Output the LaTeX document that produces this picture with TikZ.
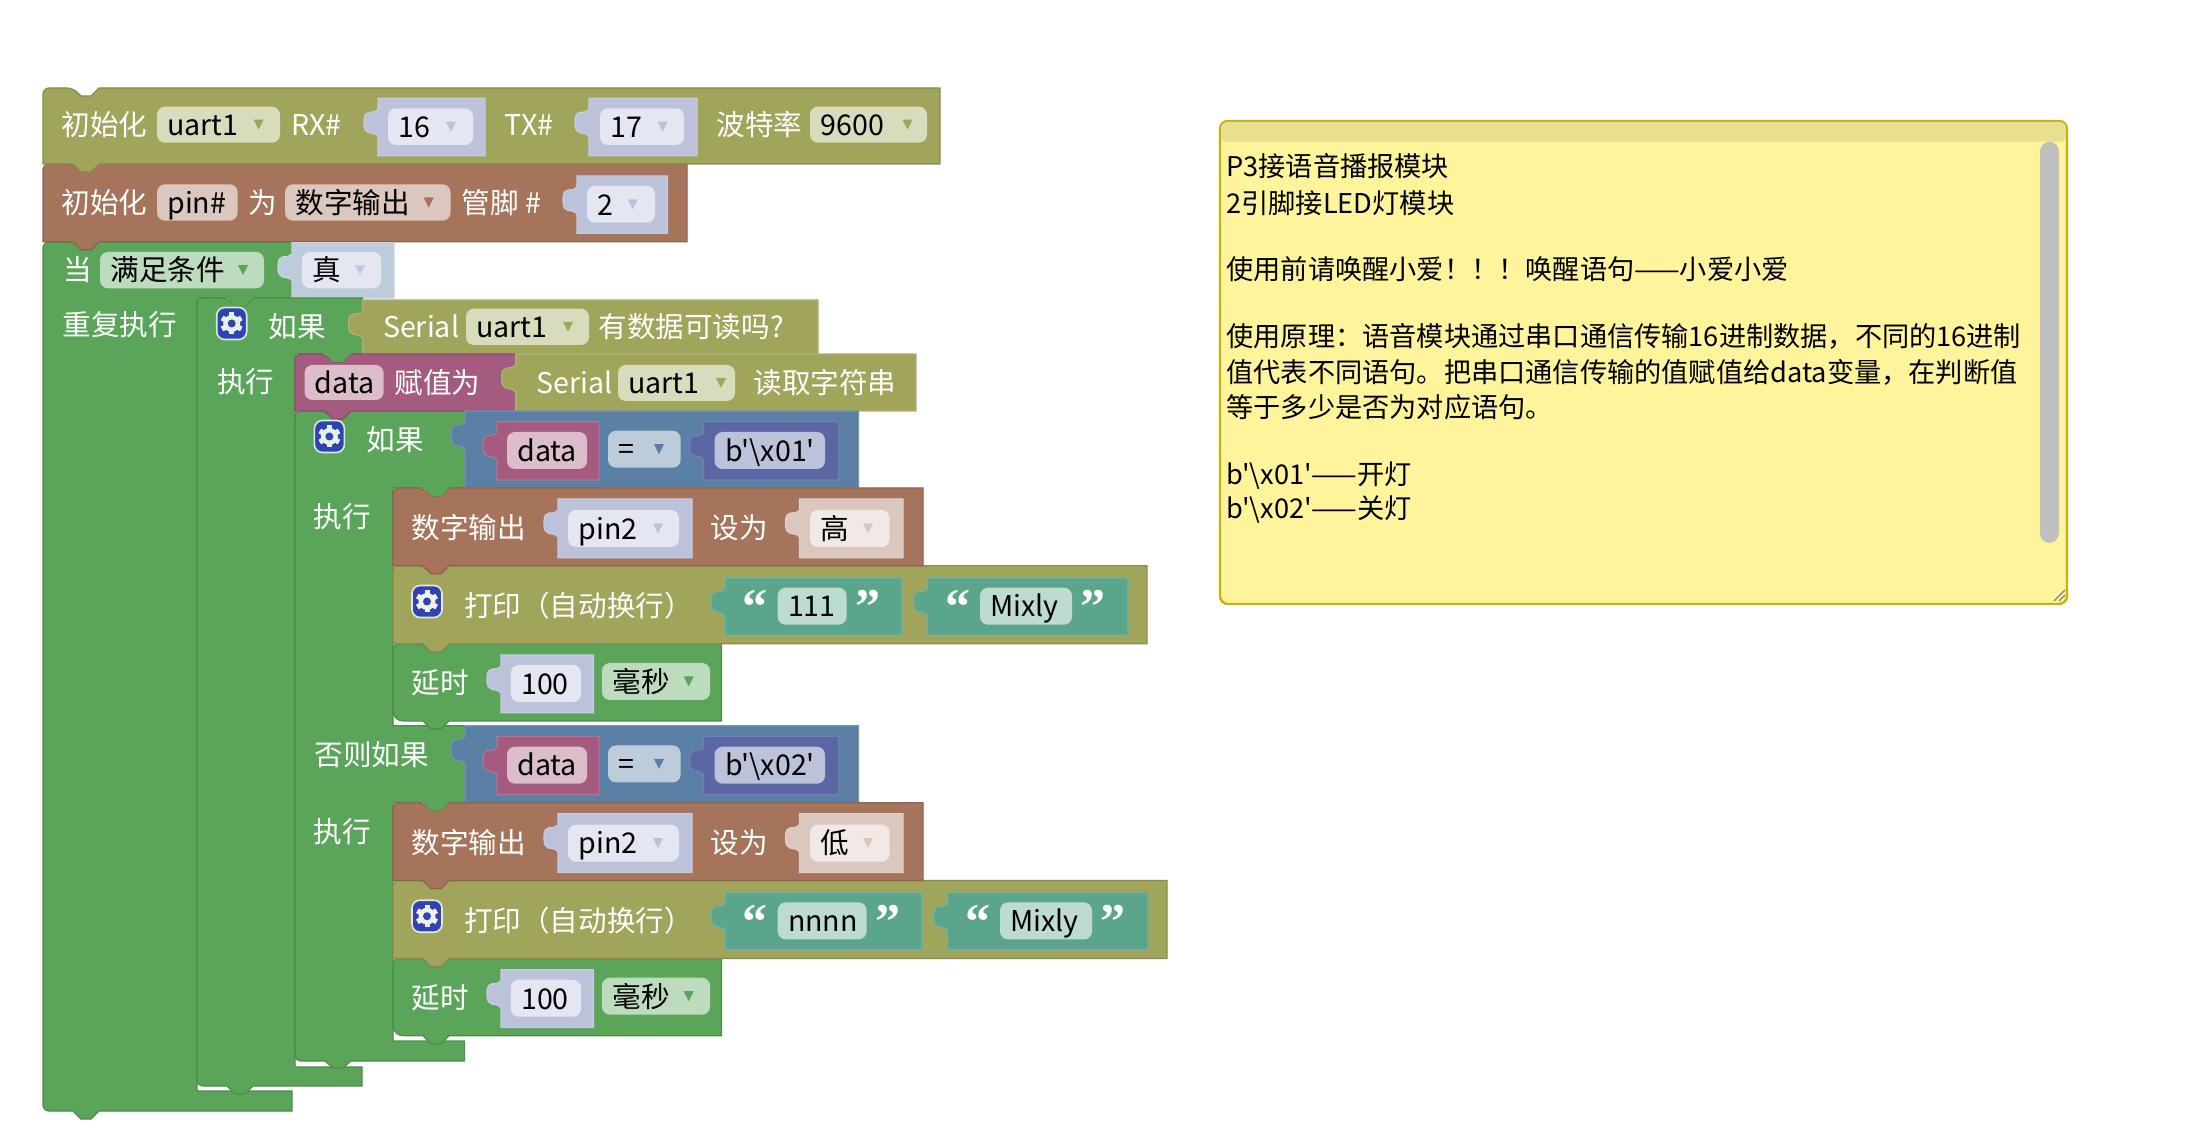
\documentclass[tikz,border=0pt]{standalone}
\usepackage{fontspec}
\setmainfont{Noto Sans CJK SC}[Ligatures=TeXOff]
\newfontfamily\quotefont{Liberation Serif}
\definecolor{blockolive}{HTML}{A0A55B}
\definecolor{blockbrown}{HTML}{A5745B}
\definecolor{blockgreen}{HTML}{5BA55B}
\definecolor{blockblue}{HTML}{5B80A5}
\definecolor{blockrose}{HTML}{A55B80}
\definecolor{blockindigo}{HTML}{5B67A5}
\definecolor{blockteal}{HTML}{5BA58C}
\definecolor{fieldolive}{HTML}{D9DBBD}
\definecolor{fieldbrown}{HTML}{DBC7BD}
\definecolor{fieldgreen}{HTML}{BDDBBD}
\definecolor{fieldblue}{HTML}{BDCCDB}
\definecolor{fieldrose}{HTML}{DBBDCC}
\definecolor{fieldindigo}{HTML}{BDC2DB}
\definecolor{fieldteal}{HTML}{BDDBD1}
\definecolor{fieldpale}{HTML}{E4E6F1}
\definecolor{fieldshell}{HTML}{F1E9E5}
\definecolor{gearblue}{HTML}{2F43B5}
\definecolor{notefill}{HTML}{FEF49C}
\definecolor{notehead}{HTML}{E8DF8F}
\definecolor{noteline}{HTML}{C6B10E}
\tikzset{
    stmt/.style = {line width=0.6pt},
    valueblk/.style = {line width=0.6pt},
    blocktext/.style = {text=white, anchor=west, inner sep=0pt, text height=12.6pt, text depth=1.8pt, font=\fontsize{14.3}{16}\selectfont},
    fieldtext/.style = {text=black, anchor=west, inner sep=0pt, text height=12.6pt, text depth=1.8pt, font=\fontsize{14.3}{16}\selectfont},
    quotemark/.style = {text=white, inner sep=0pt, font=\quotefont\bfseries\fontsize{25}{25}\selectfont},
    notetext/.style = {text=black, anchor=west, inner sep=0pt, text height=12pt, text depth=1.7pt, font=\fontsize{13.6}{16}\selectfont}
}
\newcommand{\stmtblock}[6][0pt]{%
    \fill[stmt, fill=#6, draw=#6!85!black] (#2,{#3+20}) [rounded corners=3pt] -- (#2,#3) -- ({#2+30},#3) [sharp corners] -- ({#2+38},{#3+8}) -- ({#2+48},{#3+8}) -- ({#2+56},#3) -- (#4,#3) -- (#4,#5) -- ({#2+56},#5) -- ({#2+48},{#5+8}) -- ({#2+38},{#5+8}) -- ({#2+30},#5) [rounded corners=#1] -- (#2,#5) -- cycle;
}
\newcommand{\conntab}[3]{%
    \fill[#3] ({#1+29},{#2-1}) -- ({#1+38},{#2+8}) -- ({#1+48},{#2+8}) -- ({#1+57},{#2-1}) -- cycle;
}
\newcommand{\valueblock}[5]{%
    \fill[valueblk, fill=#5, draw=#5!85!white] (#1,#2) -- (#3,#2) -- (#3,#4) -- (#1,#4) -- (#1,{#2+38}) .. controls ({#1-6},{#2+31}) and ({#1-14},{#2+40}) .. ({#1-14},{#2+24}) .. controls ({#1-14},{#2+8}) and ({#1-6},{#2+18}) .. (#1,{#2+11}) -- cycle;
}
\newcommand{\field}[7]{%
    \fill[#6, rounded corners=4pt] (#2,#3) rectangle (#4,#5);
    \node[fieldtext] (#1) at ({#2+10},{(#3+#5)/2}) {#7};
}
\newcommand{\dropfield}[9]{%
    \field{#1}{#2}{#3}{#4}{#5}{#6}{#7}
    \fill[#9] ({#8-5},{(#3+#5)/2-5}) -- ({#8+5},{(#3+#5)/2-5}) -- (#8,{(#3+#5)/2+5}) -- cycle;
}
\newcommand{\gearicon}[3]{%
    \fill[gearblue, draw=#3!60!white, line width=0.8pt, rounded corners=4pt] ({#1-15},{#2-16}) rectangle ({#1+15},{#2+16});
    \foreach \a in {0,60,...,300}
        \fill[#3!40!white, shift={(#1,#2)}, rotate=\a] (-2.5,-11) rectangle (2.5,11);
    \fill[#3!40!white] (#1,#2) circle (8.5);
    \fill[gearblue] (#1,#2) circle (4);
}
\begin{document}
\begin{tikzpicture}[x=0.5pt, y=-0.5pt]
    \useasboundingbox (0,0) rectangle (2186,1138);

    % repeat-while block
    \fill[stmt, fill=blockgreen, draw=blockgreen!85!black] (43,262) [rounded corners=3pt] -- (43,242) -- (73,242) [sharp corners] -- (81,250) -- (91,250) -- (99,242) -- (292,242) -- (292,298) -- (197,298) -- (197,1091) -- (292,1091) -- (292,1111) -- (99,1111) -- (91,1119) -- (81,1119) -- (73,1111) [rounded corners=3pt] -- (43,1111) -- cycle;
    \stmtblock{43}{164}{687}{241.7}{blockbrown}
    \stmtblock{43}{88}{940}{164}{blockolive}

    \node[blocktext] (inituart) at (61,125) {初始化};
    \dropfield{uartname}{157}{106.7}{280}{142.7}{fieldolive}{uart1}{258.6}{blockolive}
    \node[blocktext] (rxlabel) at (291,125) {RX\#};
    \valueblock{378}{98.3}{485}{155.7}{fieldindigo}
    \dropfield{rxpin}{388}{108.3}{473}{145}{fieldpale}{16}{451}{fieldindigo}
    \node[blocktext] (txlabel) at (504.5,125) {TX\#};
    \valueblock{589}{98.3}{697}{155.7}{fieldindigo}
    \dropfield{txpin}{600}{108.3}{684}{145}{fieldpale}{17}{662.6}{fieldindigo}
    \node[blocktext] (baudlabel) at (716,125) {波特率};
    \dropfield{baudrate}{810}{106.7}{927}{142.7}{fieldolive}{9600}{907.5}{blockolive}

    \node[blocktext] (initpin) at (61,203) {初始化};
    \field{pinname}{157}{184.3}{237.6}{220.7}{fieldbrown}{pin\#}
    \node[blocktext] (aslabel) at (248,203) {为};
    \dropfield{pinmode}{285}{184.3}{450.5}{220.7}{fieldbrown}{数字输出}{428.7}{blockbrown}
    \node[blocktext] (pinlabel) at (461,203) {管脚 \#};
    \valueblock{577}{176}{667.5}{233.3}{fieldindigo}
    \dropfield{pinnum}{587}{186}{655}{222.7}{fieldpale}{2}{632.7}{fieldindigo}

    \node[blocktext] (whenlabel) at (62.6,270) {当};
    \dropfield{whenmode}{100}{252}{264}{288.3}{fieldgreen}{满足条件}{243}{blockgreen}
    \valueblock{292}{242.7}{394}{298}{fieldblue}
    \dropfield{whentrue}{302}{252}{381}{288.3}{fieldpale}{真}{360}{fieldblue}
    \node[blocktext] (repeatlabel) at (62,325) {重复执行};

    % outer if
    \fill[stmt, fill=blockgreen, draw=blockgreen!85!black] (197,318) [rounded corners=3pt] -- (197,298) -- (227,298) [sharp corners] -- (235,306) -- (245,306) -- (253,298) -- (362.6,298) -- (362.6,354) -- (295,354) -- (295,1067) -- (362,1067) -- (362,1086) -- (253,1086) -- (245,1094) -- (235,1094) -- (227,1086) [rounded corners=3pt] -- (197,1086) -- cycle;
    \conntab{197}{298}{blockgreen}
    \gearicon{231.7}{323.5}{fieldgreen}
    \node[blocktext] (iflabel) at (268,327) {如果};
    \valueblock{362.6}{300}{818}{354}{blockolive}
    \node[blocktext] (serialread) at (382.7,327) {Serial};
    \dropfield{uartcheck}{466}{308.7}{589}{345}{fieldolive}{uart1}{568}{blockolive}
    \node[blocktext] (availlabel) at (598,327) {有数据可读吗?};
    \node[blocktext] (dolabel) at (216.6,381.7) {执行};

    % inner if with its two branches
    \fill[stmt, fill=blockgreen, draw=blockgreen!85!black] (295,431) [rounded corners=3pt] -- (295,411) -- (325,411) [sharp corners] -- (333,419) -- (343,419) -- (351,411) -- (465,411) -- (465,488) -- (393,488) -- (393,725.7) -- (465,725.7) -- (465,802.7) -- (393,802.7) -- (393,1041) -- (464.6,1041) -- (464.6,1061) -- (351,1061) -- (343,1068) -- (333,1068) -- (325,1061) [rounded corners=3pt] -- (295,1061) -- cycle;

    \stmtblock{295}{354}{516.5}{411}{blockrose}
    \conntab{295}{354}{blockgreen}
    \field{dataname}{304.5}{365}{383.6}{400}{fieldrose}{data}
    \node[blocktext] (assignlabel) at (394,383) {赋值为};
    \valueblock{515.7}{354}{916}{411}{blockolive}
    \node[blocktext] (serialget) at (536,383) {Serial};
    \dropfield{uartread}{618}{365}{735}{401}{fieldolive}{uart1}{721}{blockolive}
    \node[blocktext] (readlabel) at (753,383) {读取字符串};

    \gearicon{329.4}{436.5}{fieldgreen}
    \node[blocktext] (ifinner) at (366,440) {如果};
    \node[blocktext] (elseif) at (314,755) {否则如果};

    \foreach \i/\dy/\lvl/\hexv/\strv/\dw in {1/0/高/01/111/0, 2/314.7/低/02/nnnn/20} {
        \pgfmathsetmacro\printend{1147+\dw}
        \pgfmathsetmacro\strend{902+\dw}
        \pgfmathsetmacro\valend{846.6+\dw}
        \pgfmathsetmacro\mixstart{927.5+\dw}
        \pgfmathsetmacro\mixend{1128+\dw}
        \pgfmathsetmacro\mixfield{980+\dw}
        \pgfmathsetmacro\mixfend{1072+\dw}
        \begin{scope}[shift={(0,\dy)}]
            \valueblock{465}{411}{858.6}{488}{blockblue}
            \valueblock{497}{421.7}{599}{480}{blockrose}
            \field{cmpdata\i}{507}{432}{587}{469}{fieldrose}{data}
            \dropfield{cmpop\i}{608}{430.7}{680.7}{467.7}{fieldblue}{=}{659}{blockblue}
            \valueblock{703.6}{421.7}{838.6}{480}{blockindigo}
            \field{cmphex\i}{714.6}{432}{825}{469}{fieldindigo}{b'\textbackslash x\hexv'}
            \node[blocktext] (dolabel\i) at (313,516.7) {执行};

            \stmtblock[5pt]{393}{643.7}{721.4}{721}{blockgreen}
            \stmtblock{393}{565.7}{\printend}{643.7}{blockolive}
            \stmtblock{393}{488}{923}{565.7}{blockbrown}
            \conntab{393}{488}{blockgreen}

            \node[blocktext] (digital\i) at (411,528) {数字输出};
            \valueblock{558}{499}{692}{557.7}{fieldindigo}
            \dropfield{pinvar\i}{568}{510}{679}{547}{fieldpale}{pin2}{658}{fieldindigo}
            \node[blocktext] (setlabel\i) at (710.5,528) {设为};
            \valueblock{799.5}{499}{903}{557.7}{fieldbrown}
            \dropfield{level\i}{810}{510}{889.6}{547}{fieldshell}{\lvl}{868}{fieldbrown}

            \gearicon{427}{601.5}{fieldolive}
            \node[blocktext] (println\i) at (463.7,605.7) {打印（自动换行）};
            \valueblock{725}{577.7}{\strend}{635}{blockteal}
            \node[quotemark] (openone\i) at (755,607) {“};
            \field{strone\i}{777.7}{587.7}{\valend}{624.7}{fieldteal}{\strv}
            \node[quotemark] (closeone\i) at ({868+\dw},607) {”};
            \valueblock{\mixstart}{577.7}{\mixend}{635}{blockteal}
            \node[quotemark] (opentwo\i) at ({958+\dw},607) {“};
            \field{strtwo\i}{\mixfield}{587.7}{\mixfend}{624.7}{fieldteal}{Mixly}
            \node[quotemark] (closetwo\i) at ({1093+\dw},607) {”};

            \node[blocktext] (delay\i) at (411,683) {延时};
            \valueblock{501}{655}{593.4}{712.7}{fieldindigo}
            \field{delayms\i}{510.8}{665}{581}{702}{fieldpale}{100}
            \dropfield{delayunit\i}{602}{663}{710}{700}{fieldgreen}{毫秒}{688.7}{blockgreen}
        \end{scope}
    }

    % note on the right
    \fill[notefill, draw=noteline, line width=1.2pt, rounded corners=4pt] (1220,121) rectangle (2067,604);
    \fill[notehead, rounded corners=3pt] (1221,122) rectangle (2066,141.7);
    \fill[gray!50, rounded corners=5pt] (2040,141.7) rectangle (2059,543);
    \draw[gray, line width=0.6pt] (2054,601) -- (2065,590) (2059,601) -- (2065,595);
    \foreach \i/\ypos/\line in {
        1/166.7/P3接语音播报模块,
        2/203/2引脚接LED灯模块,
        3/269/使用前请唤醒小爱！！！唤醒语句——小爱小爱,
        4/336.7/使用原理：语音模块通过串口通信传输16进制数据，不同的16进制,
        5/372/值代表不同语句。把串口通信传输的值赋值给data变量，在判断值,
        6/407.7/等于多少是否为对应语句。,
        7/474/b'\textbackslash x01'——开灯,
        8/508/b'\textbackslash x02'——关灯} {
        \node[notetext] (note\i) at (1226,\ypos) {\line};
    }
\end{tikzpicture}
\end{document}
